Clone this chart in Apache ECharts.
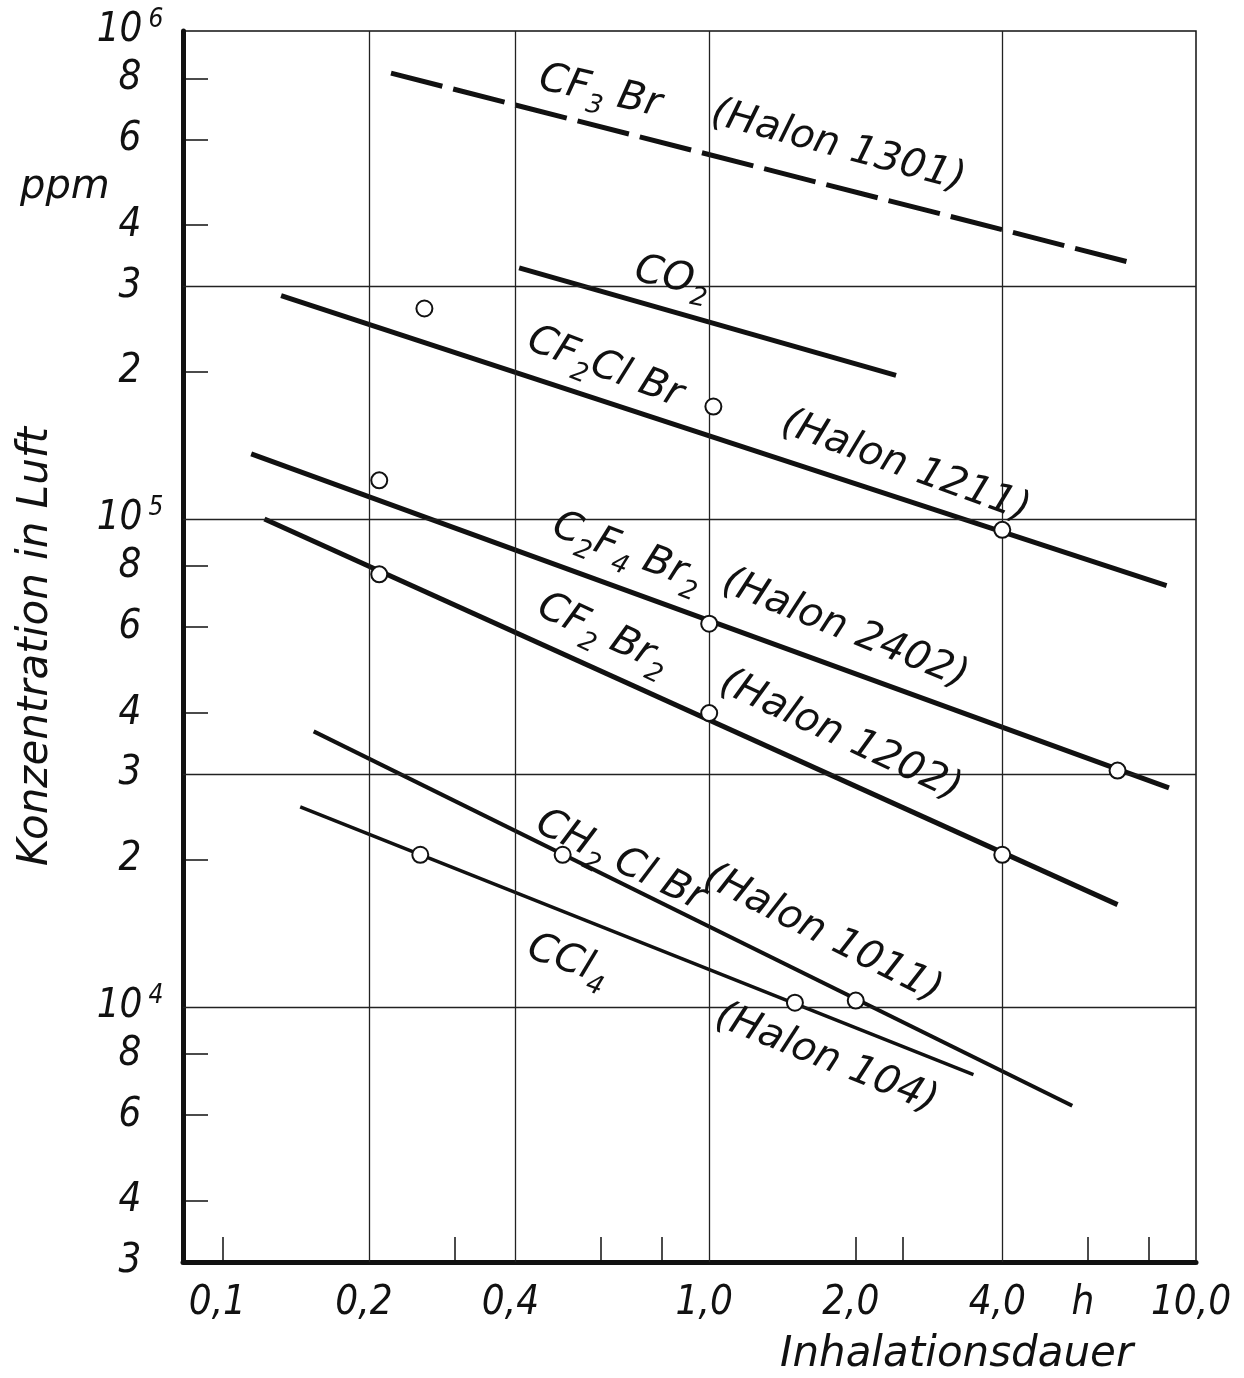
<!DOCTYPE html>
<html lang="de">
<head>
<meta charset="UTF-8">
<title>Konzentration in Luft / Inhalationsdauer</title>
<style>
  html, body { margin: 0; padding: 0; background: #fff; }
  #chart { width: 1244px; height: 1378px; }
</style>
<script src="https://cdn.jsdelivr.net/npm/echarts@6.0.0/dist/echarts.min.js"></script>
</head>
<body>
<div id="chart"></div>
<script>
// Achse: Inhalationsdauer (h)
const xTicks = [0.1, 0.3, 0.6, 0.8, 2, 2.5, 6, 8];
const xLabelValues = [0.1, 0.2, 0.4, 1, 2, 4, 6, 10];
const xLabelTexts = ['0,1', '0,2', '0,4', '1,0', '2,0', '4,0', 'h', '10,0'];
const xGrid = [0.2, 0.4, 1, 4];

// Achse: Konzentration (ppm)
const yTicks = [4e3, 6e3, 8e3, 2e4, 4e4, 6e4, 8e4, 2e5, 4e5, 6e5, 8e5];
const yLabelValues = [3e3, 4e3, 6e3, 8e3, 1e4, 2e4, 3e4, 4e4, 6e4, 8e4,
                      1e5, 2e5, 3e5, 4e5, 6e5, 8e5, 1e6];
const yGrid = [1e4, 3e4, 1e5, 3e5];

// Geraden (Anfang, Ende)
const halon1301 = [[0.222, 8.2e5], [7.2, 3.37e5]];
const co2       = [[0.407, 3.27e5], [2.42, 1.97e5]];
const halon1211 = [[0.132, 2.87e5], [8.7, 7.3e4]];
const halon2402 = [[0.1146, 1.36e5], [8.8, 2.81e4]];
const halon1202 = [[0.122, 1.0e5], [6.9, 1.62e4]];
const halon1011 = [[0.154, 3.67e4], [5.57, 6.27e3]];
const halon104  = [[0.1445, 2.57e4], [3.49, 7.26e3]];

// Messpunkte (Kreise)
const pts1211 = [[0.26, 2.7e5], [1.02, 1.7e5], [4.0, 9.5e4]];
const pts2402 = [[0.21, 1.2e5], [1.0, 6.1e4], [6.9, 3.05e4]];
const pts1202 = [[0.21, 7.7e4], [1.0, 4.0e4], [4.0, 2.05e4]];
const pts1011 = [[0.5, 2.05e4], [2.0, 1.03e4]];
const pts104  = [[0.255, 2.05e4], [1.5, 1.02e4]];

// Beschriftungen im Diagramm: Text, Lage (t, ppm), Drehung
const notes = [
  ['CF{s|3} Br', [0.597, 7.5e5], -13],
  ['(Halon 1301)', [1.84, 5.8e5], -15],
  ['CO{s|2}', [0.84, 3.12e5], -12],
  ['CF{s|2}Cl Br', [0.611, 2.04e5], -21],
  ['(Halon 1211)', [2.53, 1.28e5], -20],
  ['C{s|2}F{s|4} Br{s|2}', [0.679, 8.54e4], -21],
  ['(Halon 2402)', [1.9, 5.94e4], -22],
  ['CF{s|2} Br{s|2}', [0.606, 5.8e4], -25],
  ['(Halon 1202)', [1.86, 3.59e4], -25],
  ['CH{s|2} Cl Br', [0.657, 1.99e4], -26],
  ['(Halon 1011)', [1.71, 1.41e4], -27],
  ['CCl{s|4}', [0.513, 1.243e4], -20],
  ['(Halon 104)', [1.74, 7.83e3], -22]
];

const FONT = "'DejaVu Sans Condensed', 'DejaVu Sans', sans-serif";
const FONT_WIDE = "'DejaVu Sans', sans-serif";
const INK = '#111';

function nearestIndex(list, v) {
  let best = 0, d = Infinity;
  list.forEach((u, i) => {
    const dd = Math.abs(Math.log10(u) - Math.log10(v));
    if (dd < d) { d = dd; best = i; }
  });
  return best;
}

function yLabel(v) {
  const e = Math.log10(v);
  if (Math.abs(e - Math.round(e)) < 1e-4) {
    return '{b|10}{p|' + Math.round(e) + '}';
  }
  return String(Math.round(v / Math.pow(10, Math.floor(e + 1e-9))));
}

function lineSeries(data, width, dashed) {
  return {
    type: 'line',
    data: data,
    symbol: 'none',
    silent: true,
    z: 3,
    lineStyle: {
      color: INK,
      width: width,
      cap: 'butt',
      type: dashed ? [53, 11.2] : 'solid'
    }
  };
}

function pointSeries(data) {
  return {
    type: 'scatter',
    data: data,
    symbol: 'circle',
    symbolSize: 16,
    silent: true,
    z: 5,
    itemStyle: { color: '#fff', borderColor: INK, borderWidth: 2, opacity: 1 }
  };
}

const chart = echarts.init(document.getElementById('chart'));

const option = {
  backgroundColor: '#fff',
  animation: false,
  grid: {
    left: 183, right: 48, top: 31, bottom: 116,
    show: true, borderColor: INK, borderWidth: 1.5,
    outerBoundsMode: 'none'
  },
  xAxis: {
    type: 'log',
    logBase: 10,
    min: 0.083,
    max: 10,
    axisLine: { show: true, onZero: false, lineStyle: { color: INK, width: 5 } },
    axisTick: {
      show: true, inside: true, length: 25,
      customValues: xTicks,
      lineStyle: { color: INK, width: 1.5 }
    },
    axisLabel: {
      customValues: xLabelValues,
      formatter: v => xLabelTexts[nearestIndex(xLabelValues, v)],
      showMinLabel: true,
      showMaxLabel: true,
      margin: 22,
      padding: [0, 10, 0, 0],
      fontSize: 40,
      fontStyle: 'italic',
      fontFamily: FONT,
      color: INK
    },
    splitLine: { show: false },
    minorTick: { show: false },
    minorSplitLine: { show: false }
  },
  yAxis: {
    type: 'log',
    logBase: 10,
    min: 3000,
    max: 1.0002e6,
    name: 'Konzentration in Luft',
    nameLocation: 'middle',
    nameGap: 126,
    nameRotate: 90,
    nameTextStyle: { fontSize: 42, fontStyle: 'italic', fontFamily: FONT_WIDE, color: INK },
    axisLine: { show: true, onZero: false, lineStyle: { color: INK, width: 5 } },
    axisTick: {
      show: true, inside: true, length: 25,
      customValues: yTicks,
      lineStyle: { color: INK, width: 1.5 }
    },
    axisLabel: {
      customValues: yLabelValues,
      formatter: v => yLabel(v),
      showMinLabel: true,
      showMaxLabel: true,
      align: 'center',
      margin: 53,
      fontSize: 40,
      lineHeight: 40,
      fontStyle: 'italic',
      fontFamily: FONT,
      color: INK,
      rich: {
        b: { fontSize: 40, lineHeight: 48, fontStyle: 'italic', fontFamily: FONT, color: INK },
        p: { fontSize: 26, lineHeight: 26, verticalAlign: 'top', fontStyle: 'italic',
             fontFamily: FONT, color: INK, padding: [0, 0, 0, 6] }
      }
    },
    splitLine: { show: false },
    minorTick: { show: false },
    minorSplitLine: { show: false }
  },
  graphic: [
    { type: 'text', left: 20, top: 168,
      style: { text: 'ppm', font: 'italic 40px ' + FONT_WIDE, fill: INK } },
    { type: 'text', left: 780, top: 1334,
      style: { text: 'Inhalationsdauer', font: 'italic 42px ' + FONT_WIDE, fill: INK } }
  ],
  series: [
    {
      // Gitterlinien
      type: 'line',
      data: [],
      silent: true,
      z: 1,
      markLine: {
        silent: true,
        symbol: ['none', 'none'],
        label: { show: false },
        lineStyle: { color: '#222', width: 1.3, type: 'solid' },
        data: xGrid.map(v => ({ xAxis: v })).concat(yGrid.map(v => ({ yAxis: v })))
      }
    },
    lineSeries(halon1301, 5, true),
    lineSeries(co2, 5),
    lineSeries(halon1211, 5),
    lineSeries(halon2402, 5),
    lineSeries(halon1202, 5),
    lineSeries(halon1011, 4),
    lineSeries(halon104, 3.5),
    pointSeries(pts1211),
    pointSeries(pts2402),
    pointSeries(pts1202),
    pointSeries(pts1011),
    pointSeries(pts104),
    {
      // Beschriftungen
      type: 'scatter',
      silent: true,
      z: 6,
      symbolSize: 1,
      itemStyle: { color: 'rgba(0,0,0,0)' },
      data: notes.map(n => ({ value: n[1], label: { rotate: n[2] } })),
      label: {
        show: true,
        position: 'inside',
        formatter: p => notes[p.dataIndex][0],
        fontSize: 40,
        lineHeight: 56,
        fontStyle: 'italic',
        fontFamily: FONT_WIDE,
        color: INK,
        opacity: 1,
        textBorderWidth: 0,
        textShadowBlur: 0,
        rich: {
          s: { fontSize: 26, lineHeight: 26, verticalAlign: 'bottom', fontStyle: 'italic',
               fontFamily: FONT_WIDE, color: INK, textBorderWidth: 0 }
        }
      }
    }
  ]
};

chart.setOption(option);
</script>
</body>
</html>
